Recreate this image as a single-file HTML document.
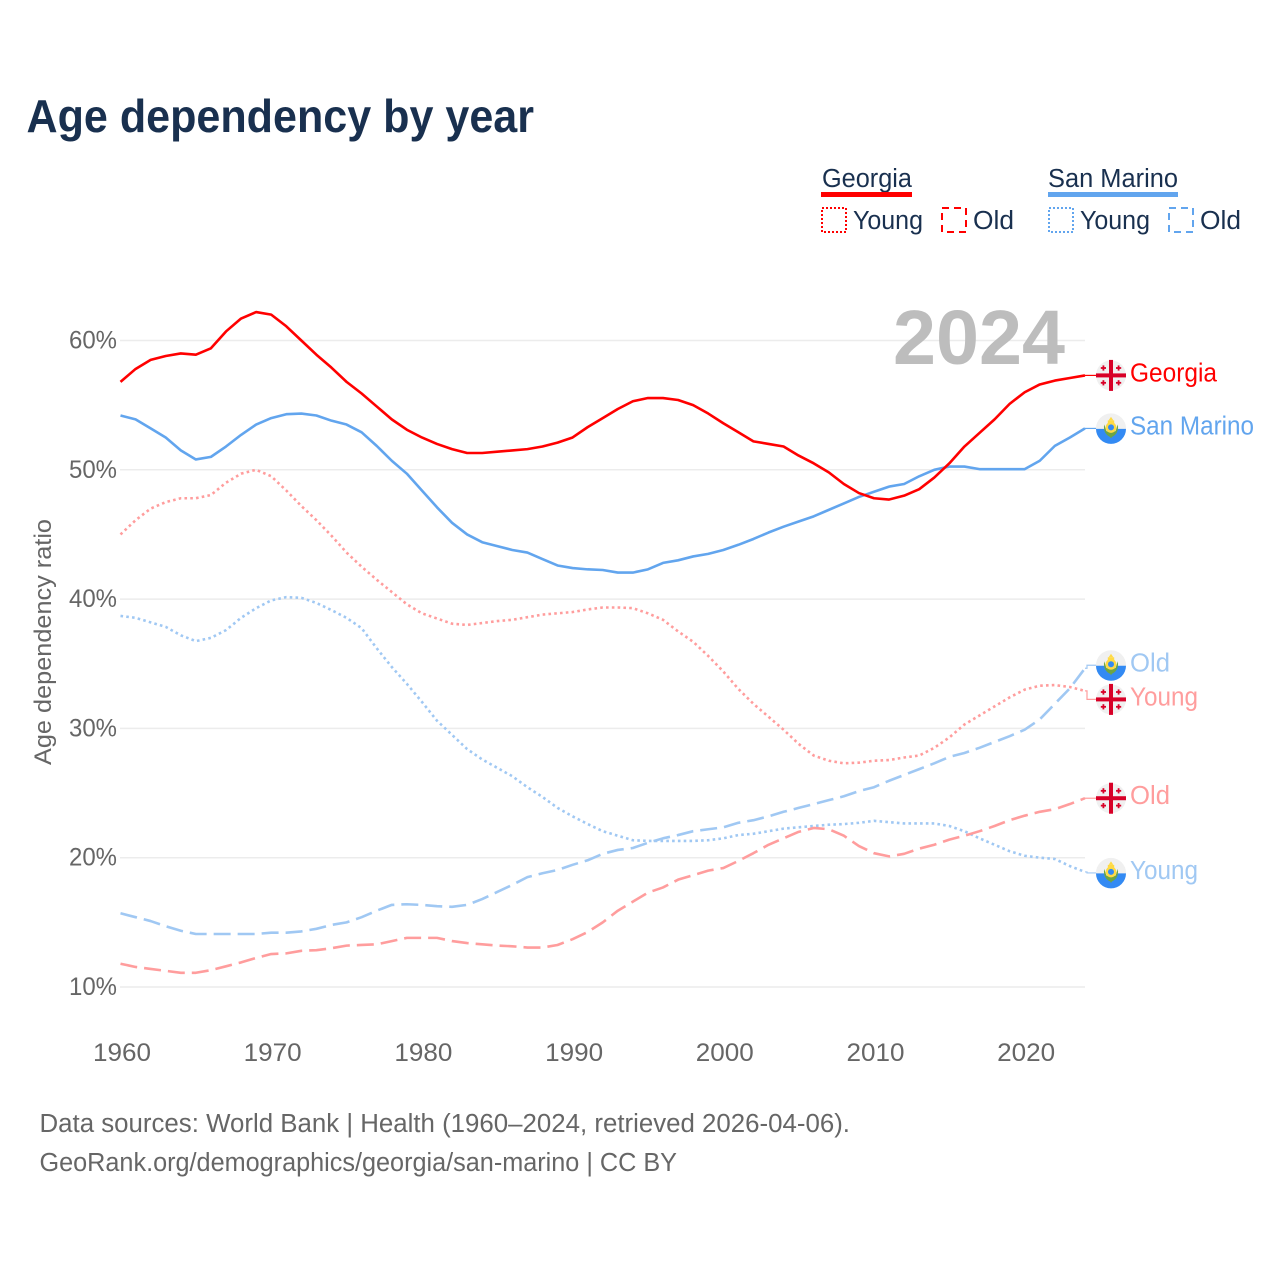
<!DOCTYPE html>
<html lang="en">
<head>
<meta charset="utf-8">
<title>Age dependency by year</title>
<style>
html,body{margin:0;padding:0;background:#fff;width:1280px;height:1280px;overflow:hidden}
svg{display:block;font-family:"Liberation Sans",sans-serif}
</style>
</head>
<body>
<svg id="chart" xmlns="http://www.w3.org/2000/svg" width="1280" height="1280" viewBox="0 0 1280 1280">
  <defs>
    <g id="ge-small-cross">
      <rect x="-2.6" y="-0.9" width="5.2" height="1.8" fill="#d80027"/>
      <rect x="-0.9" y="-2.6" width="1.8" height="5.2" fill="#d80027"/>
    </g>
    <g id="flag-ge">
      <circle r="15" fill="#f0f0f0"/>
      <rect x="-15" y="-2" width="30" height="4" fill="#d80027"/>
      <rect x="-2" y="-15.5" width="4" height="31" fill="#d80027"/>
      <use href="#ge-small-cross" x="-7.6" y="-7.4"/>
      <use href="#ge-small-cross" x="7.6" y="-7.4"/>
      <use href="#ge-small-cross" x="-7.6" y="7.4"/>
      <use href="#ge-small-cross" x="7.6" y="7.4"/>
    </g>
    <g id="flag-sm">
      <circle r="15" fill="#f0f0f0"/>
      <path d="M-15 0.5H-7C-5 3 -2 4 0 4C2 4 5 3 7 0.5H15A15 15 0 0 1 -15 0.5Z" fill="#338af3"/>
      <path d="M-6.8 -4C-8 2 -5 7 -1 8.5L0 10L1 8.5C5 7 8 2 6.8 -4L4.5 3H-4.5Z" fill="#6da544"/>
      <rect x="-3.2" y="-8" width="6.4" height="4" fill="#ffda44"/>
      <path d="M-2.4 -8L0 -11.5L2.4 -8Z" fill="#ffda44"/>
      <circle cy="-1" r="5.4" fill="#ffda44"/>
      <circle cy="-1" r="3" fill="#338af3"/>
    </g>
  </defs>

  <text x="26.5" y="132" font-size="46" font-weight="700" fill="#19304f" textLength="507.5" lengthAdjust="spacingAndGlyphs">Age dependency by year</text>

  <g font-size="25.5" fill="#19304f">
    <text x="822" y="187" textLength="90" lengthAdjust="spacingAndGlyphs">Georgia</text>
    <rect x="821" y="192" width="91" height="5" fill="#ff0000"/>
    <rect x="822" y="208" width="24" height="24" fill="none" stroke="#ff0000" stroke-width="2" stroke-dasharray="2 2"/>
    <text x="853" y="229" textLength="70" lengthAdjust="spacingAndGlyphs">Young</text>
    <rect x="942" y="208" width="24" height="24" fill="none" stroke="#ff0000" stroke-width="2" stroke-dasharray="7 5"/>
    <text x="973" y="229" textLength="41" lengthAdjust="spacingAndGlyphs">Old</text>

    <text x="1048" y="187" textLength="130" lengthAdjust="spacingAndGlyphs">San Marino</text>
    <rect x="1048" y="192" width="130" height="5" fill="#62a5ee"/>
    <rect x="1049" y="208" width="24" height="24" fill="none" stroke="#62a5ee" stroke-width="2" stroke-dasharray="2 2"/>
    <text x="1080" y="229" textLength="70" lengthAdjust="spacingAndGlyphs">Young</text>
    <rect x="1169" y="208" width="24" height="24" fill="none" stroke="#62a5ee" stroke-width="2" stroke-dasharray="7 5"/>
    <text x="1200" y="229" textLength="41" lengthAdjust="spacingAndGlyphs">Old</text>
  </g>

  <g id="grid"></g>

  <text x="893" y="364" font-size="77" font-weight="700" fill="#bdbdbd" textLength="172" lengthAdjust="spacingAndGlyphs">2024</text>

  <text transform="translate(51,642) rotate(-90)" text-anchor="middle" font-size="24" fill="#666666" textLength="246" lengthAdjust="spacingAndGlyphs">Age dependency ratio</text>

  <g id="ticks"></g>
  <g id="series"></g>

  <g font-size="25.5" fill="#666666">
    <text x="39.5" y="1132" textLength="810.5" lengthAdjust="spacingAndGlyphs">Data sources: World Bank | Health (1960–2024, retrieved 2026-04-06).</text>
    <text x="39.5" y="1171" textLength="637.5" lengthAdjust="spacingAndGlyphs">GeoRank.org/demographics/georgia/san-marino | CC BY</text>
  </g>
</svg>
<script>
const startYear = 1960;
const xTickLabels = [1960, 1970, 1980, 1990, 2000, 2010, 2020];
const yTickLabels = [10, 20, 30, 40, 50, 60];

const georgiaTotal = [
  56.8,57.8,58.5,58.8,59.0,58.9,59.4,60.7,61.7,62.2,
  62.0,61.1,60.0,58.9,57.9,56.8,55.9,54.9,53.9,53.1,
  52.5,52.0,51.6,51.3,51.3,51.4,51.5,51.6,51.8,52.1,
  52.5,53.3,54.0,54.7,55.3,55.55,55.55,55.4,55.0,54.35,
  53.6,52.9,52.2,52.0,51.8,51.1,50.5,49.8,48.9,48.2,
  47.8,47.7,48.0,48.5,49.4,50.5,51.8,52.85,53.9,55.1,
  56.0,56.6,56.9,57.1,57.3];
const sanMarinoTotal = [
  54.2,53.9,53.2,52.5,51.5,50.8,51.0,51.8,52.7,53.5,
  54.0,54.3,54.35,54.2,53.8,53.5,52.9,51.85,50.7,49.7,
  48.4,47.1,45.9,45.0,44.4,44.1,43.8,43.6,43.1,42.6,
  42.4,42.3,42.25,42.05,42.05,42.3,42.8,43.0,43.3,43.5,
  43.8,44.2,44.65,45.15,45.6,46.0,46.4,46.9,47.4,47.9,
  48.3,48.7,48.9,49.5,50.0,50.25,50.25,50.05,50.05,50.05,
  50.05,50.7,51.85,52.5,53.2];
const georgiaYoung = [
  45.0,46.1,47.0,47.5,47.8,47.8,48.05,49.0,49.7,50.0,
  49.5,48.4,47.2,46.1,44.9,43.6,42.5,41.5,40.55,39.6,
  38.9,38.5,38.1,38.0,38.15,38.3,38.4,38.6,38.8,38.9,
  39.0,39.2,39.35,39.35,39.3,38.9,38.4,37.5,36.7,35.6,
  34.4,33.05,31.9,30.9,29.9,28.8,27.9,27.5,27.3,27.35,
  27.5,27.55,27.75,27.9,28.5,29.3,30.3,31.0,31.7,32.4,
  33.0,33.3,33.35,33.2,32.9];
const georgiaOld = [
  11.8,11.55,11.4,11.25,11.1,11.1,11.3,11.6,11.9,12.25,
  12.55,12.6,12.8,12.85,13.0,13.2,13.25,13.3,13.55,13.8,
  13.8,13.8,13.55,13.4,13.3,13.2,13.15,13.05,13.05,13.25,
  13.7,14.25,15.0,15.9,16.6,17.3,17.7,18.3,18.65,19.0,
  19.2,19.75,20.35,21.0,21.5,22.0,22.3,22.2,21.7,20.9,
  20.35,20.1,20.3,20.7,21.0,21.4,21.7,22.05,22.45,22.9,
  23.25,23.55,23.75,24.15,24.6];
const sanMarinoYoung = [
  38.7,38.55,38.2,37.85,37.2,36.75,37.0,37.6,38.55,39.3,
  39.9,40.15,40.1,39.7,39.15,38.55,37.75,36.2,34.75,33.45,
  32.05,30.6,29.5,28.4,27.6,26.95,26.3,25.45,24.7,23.85,
  23.2,22.6,22.05,21.7,21.35,21.3,21.3,21.3,21.3,21.35,
  21.5,21.75,21.85,22.05,22.25,22.35,22.45,22.55,22.6,22.7,
  22.85,22.75,22.65,22.65,22.65,22.45,22.05,21.5,21.0,20.5,
  20.15,20.0,19.9,19.35,18.9];
const sanMarinoOld = [
  15.7,15.4,15.1,14.7,14.35,14.1,14.1,14.1,14.1,14.1,
  14.2,14.2,14.3,14.5,14.8,15.0,15.4,15.9,16.35,16.4,
  16.35,16.25,16.2,16.35,16.8,17.35,17.9,18.5,18.8,19.05,
  19.45,19.8,20.3,20.6,20.75,21.15,21.5,21.75,22.05,22.2,
  22.35,22.7,22.9,23.2,23.55,23.85,24.15,24.45,24.75,25.15,
  25.45,25.95,26.4,26.85,27.3,27.8,28.1,28.5,28.95,29.4,
  29.9,30.7,31.9,33.1,34.65];

const NS = 'http://www.w3.org/2000/svg';
function xScale(year) { return 120.5 + (year - startYear) * 15.07; }
function yScale(v) { return 987 - (v - 10) * 12.93; }
function make(tag, parent) {
  const el = document.createElementNS(NS, tag);
  parent.appendChild(el);
  return el;
}

const gridLayer = document.getElementById('grid');
const tickLayer = document.getElementById('ticks');
const seriesLayer = document.getElementById('series');

yTickLabels.forEach(function (v) {
  const line = make('line', gridLayer);
  
  
  line.setAttribute('x1', 120);
  line.setAttribute('x2', 1085);
  line.setAttribute('y1', yScale(v));
  line.setAttribute('y2', yScale(v));
  line.setAttribute('stroke', '#ececec');
  line.setAttribute('stroke-width', 1.5);

  const label = make('text', tickLayer);
  
  
  label.setAttribute('x', 117);
  label.setAttribute('y', yScale(v) + 8);
  label.setAttribute('text-anchor', 'end');
  label.setAttribute('font-size', 25);
  label.setAttribute('fill', '#666666');
  label.setAttribute('textLength', 48);
  label.setAttribute('lengthAdjust', 'spacingAndGlyphs');
  label.textContent = v + '%';
});

xTickLabels.forEach(function (year) {
  const label = make('text', tickLayer);
  
  
  label.setAttribute('x', xScale(year) + 1.5);
  label.setAttribute('y', 1061);
  label.setAttribute('text-anchor', 'middle');
  label.setAttribute('font-size', 25);
  label.setAttribute('fill', '#666666');
  label.setAttribute('textLength', 58);
  label.setAttribute('lengthAdjust', 'spacingAndGlyphs');
  label.textContent = year;
});

function drawSeries(name, values, color, dash, flag, text, textWidth, labelShift) {
  const pts = values.map(function (v, i) {
    return xScale(startYear + i).toFixed(2) + ',' + yScale(v).toFixed(2);
  }).join(' ');
  const line = make('polyline', seriesLayer);
  
  
  line.setAttribute('points', pts);
  line.setAttribute('fill', 'none');
  line.setAttribute('stroke', color);
  line.setAttribute('stroke-width', 2.6);
  line.setAttribute('stroke-linejoin', 'round');
  if (dash) line.setAttribute('stroke-dasharray', dash);

  const endY = yScale(values[values.length - 1]);
  const labelY = endY + labelShift;

  const leader = make('polyline', seriesLayer);
  
  
  leader.setAttribute('points', '1085,' + endY + ' 1087,' + endY + ' 1087,' + labelY + ' 1096,' + labelY);
  leader.setAttribute('fill', 'none');
  leader.setAttribute('stroke', color);
  leader.setAttribute('stroke-width', 1.2);

  const icon = make('use', seriesLayer);
  
  
  icon.setAttribute('href', '#' + flag);
  icon.setAttribute('transform', 'translate(1111,' + labelY + ')');

  const label = make('text', seriesLayer);
  
  
  label.setAttribute('x', 1130);
  label.setAttribute('y', labelY + 6);
  label.setAttribute('font-size', 25.5);
  label.setAttribute('fill', color);
  label.setAttribute('textLength', textWidth);
  label.setAttribute('lengthAdjust', 'spacingAndGlyphs');
  label.textContent = text;
}

drawSeries('san-marino-old', sanMarinoOld, '#a0c8f3', '17 7', 'flag-sm', 'Old', 40, -3);
drawSeries('san-marino-young', sanMarinoYoung, '#a0c8f3', '2.6 3.2', 'flag-sm', 'Young', 68, 1);
drawSeries('georgia-old', georgiaOld, '#ff9d9d', '17 7', 'flag-ge', 'Old', 40, 0);
drawSeries('georgia-young', georgiaYoung, '#ff9d9d', '2.6 3.2', 'flag-ge', 'Young', 68, 8.5);
drawSeries('san-marino-total', sanMarinoTotal, '#62a5ee', '', 'flag-sm', 'San Marino', 124, 0);
drawSeries('georgia-total', georgiaTotal, '#ff0000', '', 'flag-ge', 'Georgia', 87, 0);
</script>
</body>
</html>
